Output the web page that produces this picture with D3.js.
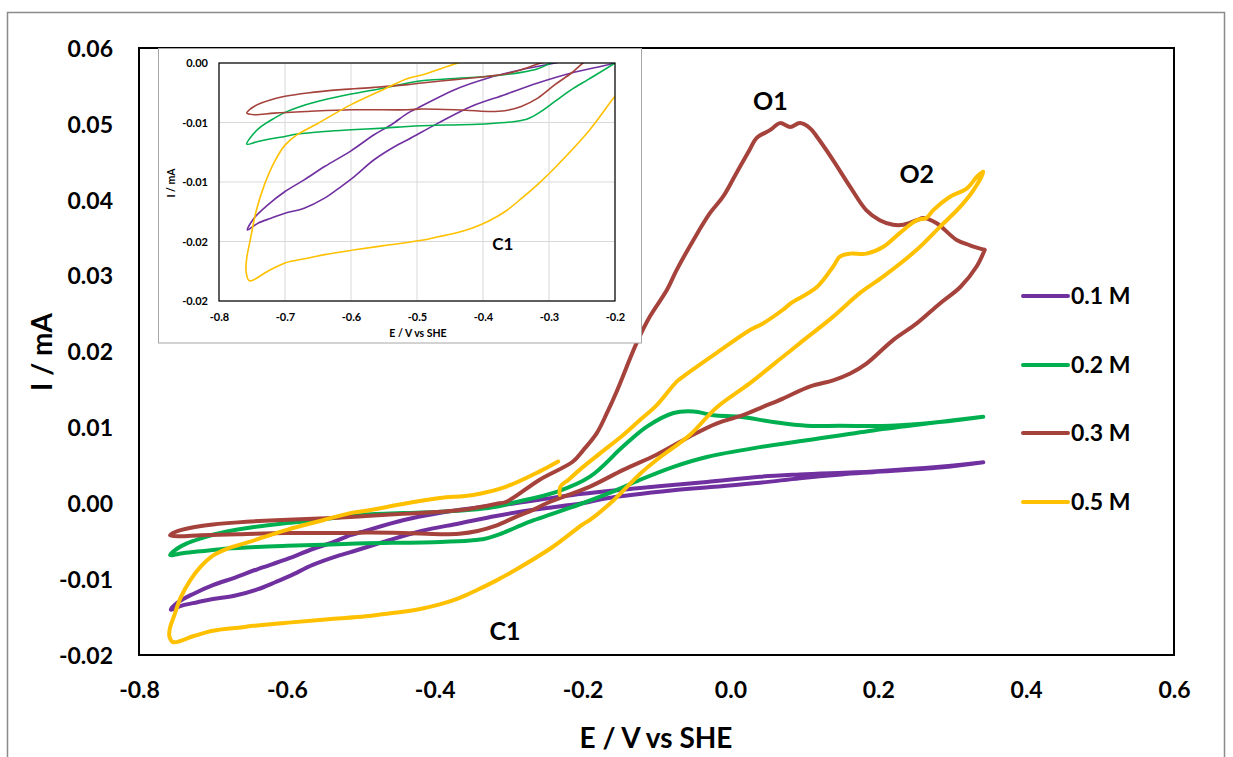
<!DOCTYPE html>
<html><head><meta charset="utf-8">
<script src="https://cdn.jsdelivr.net/npm/d3@7"></script>
<style>
body{margin:0;background:#fff}
text{font-family:Lato,"Open Sans",sans-serif;font-weight:700;fill:#000}
</style></head>
<body><svg id="chart" width="1233" height="757"></svg>
<script>
// ---------- data ----------
const xTicks = [-0.8, -0.6, -0.4, -0.2, 0.0, 0.2, 0.4, 0.6];
const yTicks = [-0.02, -0.01, 0.00, 0.01, 0.02, 0.03, 0.04, 0.05, 0.06];
const insetXTicks = [-0.8, -0.7, -0.6, -0.5, -0.4, -0.3, -0.2];
const insetYTicks = [0, -0.005, -0.01, -0.015, -0.02];
const insetYTickLabels = ["0.00", "-0.01", "-0.01", "-0.02", "-0.02"];
const seriesNames = ["0.1 M", "0.2 M", "0.3 M", "0.5 M"];
const peakLabels = ["O1", "O2", "C1"];

// E (V vs SHE), I (mA)
const cv01 = [[0.342,0.0054],[0.283,0.0047],[0.193,0.0041],[0.150,0.0038],[0.094,0.0033],[0.040,0.0027],[-0.030,0.0021],[-0.077,0.0017],[-0.167,0.00065],[-0.200,0.0],[-0.266,-0.00084],[-0.317,-0.00168],[-0.367,-0.00266],[-0.418,-0.00365],[-0.468,-0.00505],[-0.514,-0.00645],[-0.529,-0.00687],[-0.565,-0.00813],[-0.595,-0.00954],[-0.615,-0.01038],[-0.640,-0.01136],[-0.671,-0.0122],[-0.700,-0.01262],[-0.721,-0.01304],[-0.741,-0.01346],[-0.757,-0.01403],
 [-0.747,-0.01304],[-0.726,-0.01192],[-0.700,-0.0108],[-0.671,-0.00982],[-0.640,-0.0087],[-0.600,-0.00738],[-0.565,-0.00603],[-0.539,-0.00519],[-0.514,-0.00421],[-0.499,-0.00379],[-0.443,-0.00224],[-0.392,-0.00126],[-0.342,-0.00056],[-0.291,0.0],[-0.213,0.0011],[-0.122,0.0020],[-0.032,0.0028],[0.040,0.0035],[0.094,0.0038],[0.193,0.0042],[0.283,0.0048],[0.342,0.0054]];

const cv02 = [[0.342,0.0114],[0.283,0.0107],[0.193,0.0096],[0.103,0.0083],[0.040,0.0074],[-0.032,0.0061],[-0.077,0.0048],[-0.122,0.0031],[-0.160,0.0015],[-0.200,0.0],[-0.241,-0.0014],[-0.266,-0.00224],[-0.291,-0.00323],[-0.312,-0.00407],[-0.332,-0.00468],[-0.352,-0.00491],[-0.392,-0.0051],[-0.493,-0.00527],[-0.514,-0.00533],[-0.550,-0.00547],[-0.600,-0.00561],[-0.640,-0.00575],[-0.681,-0.00597],[-0.700,-0.00617],[-0.721,-0.00637],[-0.741,-0.00659],[-0.758,-0.00682],
 [-0.749,-0.00603],[-0.736,-0.00533],[-0.716,-0.00463],[-0.700,-0.00415],[-0.681,-0.00373],[-0.651,-0.00323],[-0.600,-0.00261],[-0.550,-0.0021],[-0.514,-0.00168],[-0.493,-0.00149],[-0.392,-0.00112],[-0.342,-0.00079],[-0.317,-0.00048],[-0.297,0.0],[-0.235,0.0015],[-0.190,0.0035],[-0.145,0.0075],[-0.113,0.0101],[-0.077,0.0119],[-0.050,0.0121],[-0.023,0.0116],[0.013,0.0114],[0.058,0.0107],[0.103,0.0102],[0.148,0.0102],[0.216,0.0102],[0.283,0.0107],[0.342,0.0114]];

const cv03 = [[0.344,0.0334],[0.333,0.0312],[0.311,0.0285],[0.283,0.0263],[0.252,0.0237],[0.220,0.0215],[0.184,0.0184],[0.162,0.0171],[0.139,0.0162],[0.108,0.0154],[0.071,0.0138],[0.044,0.0127],[0.017,0.0116],[-0.019,0.0105],[-0.055,0.0088],[-0.068,0.0081],[-0.100,0.0064],[-0.145,0.0044],[-0.190,0.0022],[-0.2485,0.0],[-0.266,-0.00084],[-0.291,-0.00182],[-0.317,-0.00295],[-0.342,-0.00365],[-0.367,-0.00401],[-0.392,-0.00407],[-0.443,-0.00393],[-0.493,-0.00387],[-0.514,-0.00393],[-0.600,-0.00393],[-0.666,-0.00407],[-0.716,-0.00421],[-0.747,-0.00435],[-0.758,-0.00421],
 [-0.754,-0.00393],[-0.747,-0.00365],[-0.736,-0.00337],[-0.716,-0.0030],[-0.700,-0.0028],[-0.666,-0.00252],[-0.615,-0.00224],[-0.565,-0.00205],[-0.514,-0.00182],[-0.493,-0.00168],[-0.443,-0.0014],[-0.392,-0.00112],[-0.367,-0.00093],[-0.342,-0.00056],[-0.317,-0.00008],[-0.303,0.0002],[-0.258,0.0031],[-0.213,0.0055],[-0.199,0.0070],[-0.181,0.0092],[-0.167,0.0119],[-0.154,0.0147],[-0.127,0.0211],[-0.109,0.0246],[-0.086,0.0281],[-0.073,0.0307],[-0.050,0.0347],[-0.028,0.0382],[-0.010,0.0404],[0.008,0.0435],[0.026,0.0466],[0.035,0.0481],[0.054,0.0492],[0.067,0.0501],[0.081,0.0496],[0.094,0.0501],[0.108,0.0494],[0.117,0.0483],[0.139,0.0452],[0.162,0.0417],[0.184,0.0386],[0.202,0.0373],[0.220,0.0367],[0.234,0.0367],[0.252,0.0373],[0.261,0.0376],[0.279,0.0369],[0.306,0.0347],[0.324,0.0340],[0.344,0.0334]];

const cv05 = [[-0.231,0.0011],[-0.230,0.0022],[-0.219,0.0031],[-0.204,0.0044],[-0.176,0.0066],[-0.145,0.0090],[-0.122,0.0110],[-0.100,0.0129],[-0.073,0.0160],[-0.064,0.0167],[-0.019,0.0198],[0.026,0.0228],[0.044,0.0237],[0.071,0.0255],[0.081,0.0263],[0.117,0.0285],[0.139,0.0312],[0.148,0.0325],[0.162,0.0329],[0.184,0.0329],[0.207,0.0338],[0.229,0.0356],[0.252,0.0373],[0.265,0.0376],[0.274,0.0386],[0.297,0.0404],[0.320,0.0415],[0.333,0.0430],[0.342,0.0437],
 [0.329,0.0413],[0.311,0.0391],[0.283,0.0364],[0.252,0.0334],[0.207,0.0299],[0.175,0.0277],[0.139,0.0246],[0.094,0.0211],[0.071,0.0193],[0.026,0.0158],[-0.019,0.0126],[-0.055,0.0090],[-0.100,0.0057],[-0.122,0.0039],[-0.158,0.0004],[-0.190,-0.0022],[-0.200,-0.0028],[-0.241,-0.0058],[-0.291,-0.0088],[-0.317,-0.0102],[-0.342,-0.0114],[-0.367,-0.0125],[-0.392,-0.0133],[-0.418,-0.0139],[-0.443,-0.0143],[-0.468,-0.0146],[-0.493,-0.0149],[-0.544,-0.0153],[-0.594,-0.0157],[-0.640,-0.0161],[-0.666,-0.0164],[-0.700,-0.0168],[-0.726,-0.0175],[-0.754,-0.0183],
 [-0.759,-0.0175],[-0.758,-0.0164],[-0.752,-0.0147],[-0.744,-0.0125],[-0.731,-0.0102],[-0.716,-0.0083],[-0.700,-0.0069],[-0.681,-0.0060],[-0.651,-0.0051],[-0.600,-0.0035],[-0.550,-0.0022],[-0.514,-0.0013],[-0.493,-0.0010],[-0.438,0.0],[-0.393,0.0007],[-0.348,0.0011],[-0.303,0.0022],[-0.258,0.0042],[-0.233,0.0055]];

const seriesData = [cv01, cv02, cv03, cv05];
const colors = ["#7030A0", "#00B050", "#A5423C", "#FFC000"];

// ---------- drawing ----------
const svg = d3.select("#chart");
svg.append("rect").attr("x",7.5).attr("y",12.5).attr("width",1217).attr("height",760)
  .attr("fill","#fff").attr("stroke","#8a8a8a").attr("stroke-width",1.5);

const x = d3.scaleLinear().domain([-0.8,0.6]).range([139,1174]);
const y = d3.scaleLinear().domain([-0.02,0.06]).range([655,48]);

const xAxis = d3.axisBottom(x).tickValues(xTicks).tickSize(0).tickFormat(d=>d.toFixed(1));
const yAxis = d3.axisLeft(y).tickValues(yTicks).tickSize(0).tickFormat(d=>d.toFixed(2));

const gx = svg.append("g").attr("transform","translate(0,655)").call(xAxis);
gx.select(".domain").remove();
gx.selectAll("text").attr("dy",0).attr("y",43).style("font-size","23px").style("font-family","Lato").style("font-weight",700);
const gy = svg.append("g").attr("transform","translate(139,0)").call(yAxis);
gy.select(".domain").remove();
gy.selectAll("text").attr("x",-26).attr("dy","0.36em").style("font-size","23px").style("font-family","Lato").style("font-weight",700);

const curve = d3.curveCatmullRom.alpha(0.5);
const line = d3.line().x(d=>x(d[0])).y(d=>y(d[1])).curve(curve);
seriesData.forEach((s,i)=>{
  svg.append("path").attr("d",line(s)).attr("fill","none").attr("stroke",colors[i])
    .attr("stroke-width",4).attr("stroke-linejoin","round").attr("stroke-linecap","round");
});

svg.append("rect").attr("x",139).attr("y",48).attr("width",1174-139).attr("height",655-48)
  .attr("fill","none").attr("stroke","#000").attr("stroke-width",2);

// axis titles
svg.append("text").attr("x",656).attr("y",748).attr("text-anchor","middle").style("font-size","28px").text("E / V vs SHE");
svg.append("text").attr("transform","translate(52,352) rotate(-90)").attr("text-anchor","middle").style("font-size","28px").text("I / mA");

// peak labels
svg.append("text").attr("x",x(0.054)).attr("y",110).attr("text-anchor","middle").style("font-size","25px").text(peakLabels[0]);
svg.append("text").attr("x",x(0.252)).attr("y",183).attr("text-anchor","middle").style("font-size","25px").text(peakLabels[1]);
svg.append("text").attr("x",x(-0.305)).attr("y",640).attr("text-anchor","middle").style("font-size","25px").text(peakLabels[2]);

// legend
seriesNames.forEach((n,i)=>{
  const ly = [296,365,433,502][i];
  svg.append("line").attr("x1",1023).attr("x2",1068).attr("y1",ly).attr("y2",ly)
    .attr("stroke",colors[i]).attr("stroke-width",4).attr("stroke-linecap","round");
  svg.append("text").attr("x",1071).attr("y",ly).attr("dy","0.36em").style("font-size","23px").text(n);
});

// ---------- inset ----------
const ins = svg.append("g");
ins.append("rect").attr("x",158.5).attr("y",48.5).attr("width",483).attr("height",294.5)
  .attr("fill","#fff").attr("stroke","#a6a6a6").attr("stroke-width",1);
const ix = d3.scaleLinear().domain([-0.8,-0.2]).range([219,615]);
const iy = d3.scaleLinear().domain([-0.02,0]).range([301,63]);

ins.append("g").selectAll("line.v").data(insetXTicks).join("line")
  .attr("x1",d=>ix(d)).attr("x2",d=>ix(d)).attr("y1",63).attr("y2",301).attr("stroke","#d9d9d9").attr("stroke-width",1);
ins.append("g").selectAll("line.h").data(insetYTicks).join("line")
  .attr("x1",219).attr("x2",615).attr("y1",d=>iy(d)).attr("y2",d=>iy(d)).attr("stroke","#d9d9d9").attr("stroke-width",1);

const ixAxis = d3.axisBottom(ix).tickValues(insetXTicks).tickSize(0).tickFormat(d=>d.toFixed(1));
const iyAxis = d3.axisLeft(iy).tickValues(insetYTicks).tickSize(0).tickFormat((d,i)=>insetYTickLabels[i]);
const igx = ins.append("g").attr("transform","translate(0,301)").call(ixAxis);
igx.select(".domain").remove();
igx.selectAll("text").attr("dy",0).attr("y",20).style("font-size","11px").style("font-family","Lato").style("font-weight",700);
const igy = ins.append("g").attr("transform","translate(219,0)").call(iyAxis);
igy.select(".domain").remove();
igy.selectAll("text").attr("x",-11).attr("dy","0.36em").style("font-size","11px").style("font-family","Lato").style("font-weight",700);

ins.append("clipPath").attr("id","iclip").append("rect").attr("x",219).attr("y",63).attr("width",396).attr("height",238);
const iline = d3.line().x(d=>ix(d[0])).y(d=>iy(d[1])).curve(curve);
const ipaths = ins.append("g").attr("clip-path","url(#iclip)");
seriesData.forEach((s,i)=>{
  ipaths.append("path").attr("d",iline(s)).attr("fill","none").attr("stroke",colors[i])
    .attr("stroke-width",1.6).attr("stroke-linejoin","round");
});
ins.append("rect").attr("x",219).attr("y",63).attr("width",396).attr("height",238)
  .attr("fill","none").attr("stroke","#000").attr("stroke-width",1.2);

ins.append("text").attr("x",418).attr("y",337).attr("text-anchor","middle").style("font-size","10.5px").text("E / V vs SHE");
ins.append("text").attr("transform","translate(175,183) rotate(-90)").attr("text-anchor","middle").style("font-size","10.5px").text("I / mA");
ins.append("text").attr("x",ix(-0.37)).attr("y",250).attr("text-anchor","middle").style("font-size","17px").text(peakLabels[2]);
</script></body></html>
